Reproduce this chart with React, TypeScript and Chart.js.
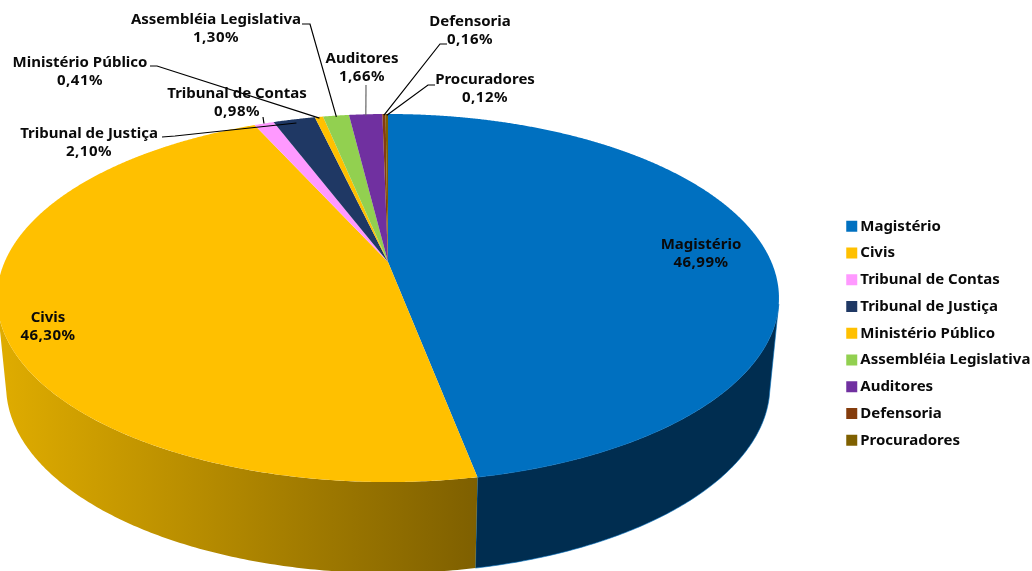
import React, { useEffect, useRef } from "react";
import { Chart, registerables } from "chart.js";

Chart.register(...registerables);

const categories = [
  "Magistério",
  "Civis",
  "Tribunal de Contas",
  "Tribunal de Justiça",
  "Ministério Público",
  "Assembléia Legislativa",
  "Auditores",
  "Defensoria",
  "Procuradores",
];
const shares = [46.99, 46.3, 0.98, 2.1, 0.41, 1.3, 1.66, 0.16, 0.12];
const colors = ["#0070C0", "#FFC000", "#FF99FF", "#1F3864", "#FFC000", "#92D050", "#7030A0", "#843C0C", "#7F6000"];

// label layout, one entry per category: centre x, first-line y
const labelX = [701, 48, 237, 89, 80, 216, 362, 470, 485];
const labelY = [245, 318, 94, 134, 63, 20, 59, 22, 80];
const FONT = 'bold 15px "Noto Sans"';

// leader line anchors (label side), by category index
const leaders: Record<number, { pts: number[][]; color: string; r: number }> = {
  2: { pts: [[263, 117]], color: "#000", r: 1 },
  3: { pts: [[162, 137], [175, 136]], color: "#000", r: 0.97 },
  4: { pts: [[150, 66], [157, 66]], color: "#000", r: 0.99 },
  5: { pts: [[302, 24], [310, 24]], color: "#000", r: 0.99 },
  6: { pts: [[366, 85]], color: "#666", r: 0.99 },
  7: { pts: [[447, 44], [440, 44]], color: "#000", r: 0.99 },
  8: { pts: [[435, 85], [428, 85]], color: "#000", r: 0.99 },
};

// perspective projection of the pie disc: phi is clockwise from the top
const top3d = { a: 262, b: 125.7, k: 383.4 };
const bottom3d = { a: 349.4, b: 111.5, k: 374.5 };
const PERSP = -0.1957;
const CX = 388;
const project = (phi: number, level = top3d, r = 1) => {
  const v = -Math.cos(phi) * r;
  const d = 1 + PERSP * v;
  return { x: CX + (level.k * Math.sin(phi) * r) / d, y: (level.a + level.b * v) / d };
};
const phiOf = (angle: number) => angle + Math.PI / 2;

const pie3d = {
  id: "pie3d",
  afterLayout(chart: any) {
    const lg = chart.legend;
    const w = lg.right - lg.left;
    const h = lg.bottom - lg.top;
    lg.left = 839;
    lg.right = lg.left + w;
    lg.top = 207;
    lg.bottom = lg.top + h;
  },
  beforeDatasetDraw(chart: any, args: any) {
    const ctx = chart.ctx;
    const arcs = args.meta.data;
    const wallRange = [1.8, 4.483];
    ctx.save();
    // side wall
    arcs.forEach((arc: any, i: number) => {
      const s = Math.max(phiOf(arc.startAngle), wallRange[0]);
      const e = Math.min(phiOf(arc.endAngle), wallRange[1]);
      if (e <= s) return;
      const pts: any[] = [];
      const steps = Math.ceil((e - s) / 0.01);
      for (let n = 0; n <= steps; n++) pts.push(project(s + ((e - s) * n) / steps));
      for (let n = steps; n >= 0; n--) pts.push(project(s + ((e - s) * n) / steps, bottom3d));
      ctx.beginPath();
      pts.forEach((p, n) => (n ? ctx.lineTo(p.x, p.y) : ctx.moveTo(p.x, p.y)));
      ctx.closePath();
      if (i === 0) {
        ctx.fillStyle = "#002D50";
        ctx.fill();
        ctx.strokeStyle = "rgba(0,112,192,0.6)";
        ctx.lineWidth = 1;
        ctx.stroke();
      } else {
        const g = ctx.createLinearGradient(0, 0, 475, 0);
        g.addColorStop(0, "#DFAC00");
        g.addColorStop(1, "#7F6000");
        ctx.fillStyle = g;
        ctx.fill();
      }
    });
    // top face
    const apex = { x: CX, y: top3d.a };
    arcs.forEach((arc: any) => {
      const s = phiOf(arc.startAngle);
      const e = phiOf(arc.endAngle);
      const steps = Math.ceil((e - s) / 0.004);
      ctx.beginPath();
      ctx.moveTo(apex.x, apex.y);
      for (let n = 0; n <= steps; n++) {
        const p = project(s + ((e - s) * n) / steps);
        ctx.lineTo(p.x, p.y);
      }
      ctx.closePath();
      ctx.fillStyle = arc.options.backgroundColor;
      ctx.fill();
    });
    ctx.restore();
    return false;
  },
  afterDatasetsDraw(chart: any) {
    const ctx = chart.ctx;
    const arcs = chart.getDatasetMeta(0).data;
    ctx.save();
    Object.keys(leaders).forEach((key) => {
      const i = Number(key);
      const l = leaders[i];
      const mid = (phiOf(arcs[i].startAngle) + phiOf(arcs[i].endAngle)) / 2;
      const end = project(mid, top3d, l.r);
      ctx.beginPath();
      l.pts.forEach((p, n) => (n ? ctx.lineTo(p[0], p[1]) : ctx.moveTo(p[0], p[1])));
      ctx.lineTo(end.x, end.y);
      ctx.strokeStyle = l.color;
      ctx.lineWidth = 1.2;
      ctx.stroke();
    });
    ctx.font = FONT;
    ctx.fillStyle = "#0A0A0A";
    ctx.textAlign = "center";
    ctx.textBaseline = "middle";
    categories.forEach((name, i) => {
      ctx.letterSpacing = "0px";
      ctx.fillText(name, labelX[i], labelY[i]);
      ctx.letterSpacing = "0.5px";
      ctx.fillText(shares[i].toFixed(2).replace(".", ",") + "%", labelX[i], labelY[i] + 18);
    });
    ctx.restore();
  },
};

export default function App() {
  const ref = useRef<HTMLCanvasElement>(null);
  useEffect(() => {
    const chart = new Chart(ref.current!, {
      type: "pie",
      plugins: [pie3d],
      data: {
        labels: categories,
        datasets: [{ data: shares, backgroundColor: colors, borderWidth: 0 }],
      },
      options: {
        animation: false,
        responsive: false,
        devicePixelRatio: 1,
        events: [],
        plugins: {
          tooltip: { enabled: false },
          title: { display: false },
          legend: {
            display: true,
            position: "right",
            align: "start",
            labels: {
              usePointStyle: true,
              pointStyle: "rect",
              pointStyleWidth: 0,
              boxWidth: 2,
              boxHeight: 11,
              padding: 11.75,
              color: "#0A0A0A",
              font: { family: '"Noto Sans"', size: 15, weight: "bold" },
            },
          },
        },
      },
    } as any);
    return () => chart.destroy();
  }, []);
  return (
    <div style={{ position: "absolute", left: 0, top: 0, width: 1032, height: 571 }}>
      <canvas ref={ref} width={1032} height={571} style={{ display: "block" }} />
    </div>
  );
}
